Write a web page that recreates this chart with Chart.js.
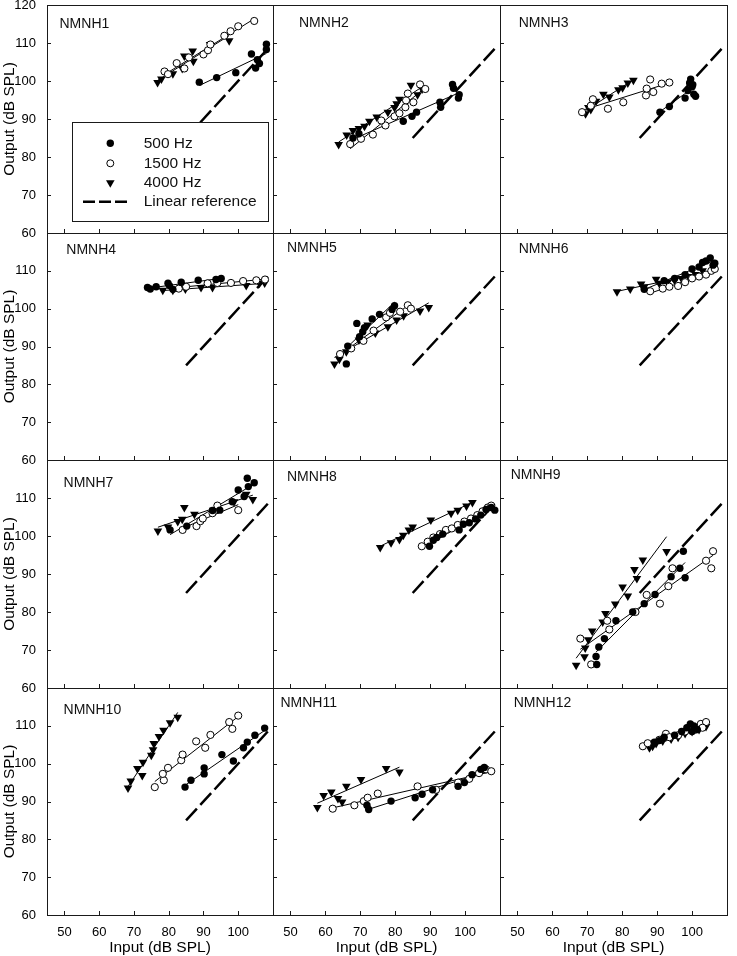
<!DOCTYPE html>
<html>
<head>
<meta charset="utf-8">
<script src="https://cdn.jsdelivr.net/npm/chart.js@4.4.1/dist/chart.umd.min.js"></script>
<style>
  body { margin: 0; background: #fff; width: 737px; height: 956px; position: relative; overflow: hidden; }
  canvas { position: absolute; }
</style>
</head>
<body>
<script>
// axes
const xTicks = [50, 60, 70, 80, 90, 100];
const yTicks = [60, 70, 80, 90, 100, 110, 120];
const refX = [85, 108.5]; // linear reference, output = input

const panelNames = ['NMNH1', 'NMNH2', 'NMNH3', 'NMNH4', 'NMNH5', 'NMNH6',
                    'NMNH7', 'NMNH8', 'NMNH9', 'NMNH10', 'NMNH11', 'NMNH12'];
const legendLabels = ['500 Hz', '1500 Hz', '4000 Hz', 'Linear reference'];

// [input, output] pairs
const NMNH1_500 = [[88.8,99.7],[93.8,100.9],[99.3,102.2],[103.8,107.1],[105.0,103.4],[106.1,104.6],[105.5,105.6],[108.1,109.7],[108.1,108.3]];
const NMNH1_1500 = [[78.8,102.5],[79.8,101.8],[82.3,104.7],[84.5,103.3],[85.8,106.2],[90.0,107.0],[91.3,108.1],[92.0,109.6],[96.0,111.9],[97.8,113.1],[100.0,114.4],[104.6,115.8]];
const NMNH1_4000 = [[76.8,99.6],[77.9,100.5],[81.2,101.9],[83.9,103.3],[84.5,106.6],[87.1,105.2],[86.9,107.9],[91.9,109.6],[97.4,110.6]];

const NMNH2_500 = [[67.9,85.0],[69.6,86.1],[82.3,89.4],[84.8,90.7],[86.1,91.8],[92.8,94.4],[93.0,93.1],[96.4,99.1],[96.7,98.1],[98.3,96.4],[98.1,95.5]];
const NMNH2_1500 = [[67.1,83.4],[70.2,84.8],[73.6,85.9],[77.2,88.3],[76.0,89.6],[79.8,90.7],[81.2,91.5],[82.9,93.1],[83.1,94.9],[83.6,96.7],[85.2,94.4],[87.1,99.1],[88.6,97.9]];
const NMNH2_4000 = [[63.8,83.3],[66.1,85.8],[67.9,87.0],[69.6,87.5],[71.2,88.1],[72.6,89.4],[74.7,90.5],[77.9,91.8],[79.8,93.0],[80.4,94.0],[81.2,95.2],[84.5,98.9],[86.4,96.4],[87.7,97.9]];

const NMNH3_500 = [[90.8,91.8],[93.5,93.3],[98.0,95.5],[98.8,97.5],[99.3,99.5],[99.6,100.5],[100.0,98.5],[100.5,96.5],[101.0,96.0],[100.2,99.0]];
const NMNH3_1500 = [[68.5,91.8],[71.0,93.5],[71.6,95.2],[75.9,92.7],[80.3,94.4],[86.8,96.2],[87.0,98.0],[88.0,100.4],[88.9,97.1],[91.3,99.3],[93.5,99.6]];
const NMNH3_4000 = [[69.5,91.4],[70.3,93.0],[71.0,92.5],[72.5,94.7],[74.6,96.5],[76.3,95.8],[78.9,97.7],[80.1,98.2],[81.6,99.5],[83.2,100.2]];

const NMNH4_500 = [[73.9,105.6],[74.7,105.2],[76.4,105.8],[79.8,106.7],[80.2,106.1],[81.2,105.1],[83.6,107.0],[88.5,107.5],[93.6,107.7],[95.1,108.0]];
const NMNH4_1500 = [[82.9,105.3],[85.0,105.8],[91.2,106.7],[94.0,106.8],[97.9,106.8],[101.4,107.3],[105.2,107.5],[107.7,107.7]];
const NMNH4_4000 = [[78.3,104.9],[81.2,104.9],[84.8,105.2],[89.3,105.6],[92.6,105.6],[102.3,106.1],[106.1,106.7],[107.6,106.8]];

const NMNH5_500 = [[66.0,85.4],[66.4,90.1],[69.0,96.1],[69.8,92.6],[70.7,93.9],[71.2,95.0],[73.4,97.3],[75.5,98.5],[79.1,99.8],[79.8,100.8]];
const NMNH5_1500 = [[64.2,88.0],[67.4,89.5],[70.9,91.5],[73.8,94.2],[77.4,97.7],[78.5,98.9],[81.4,99.2],[83.6,100.9],[84.5,100.0]];
const NMNH5_4000 = [[62.6,85.4],[64.0,86.6],[66.0,88.6],[69.6,91.7],[72.1,95.7],[74.3,93.6],[77.9,95.2],[80.4,97.0],[82.4,98.1],[87.1,99.4],[89.6,100.3]];

const NMNH6_500 = [[86.3,105.1],[92.0,107.4],[95.0,108.0],[98.0,109.0],[100.0,110.5],[102.0,111.0],[103.0,112.2],[104.0,112.6],[105.2,113.4],[106.0,111.5],[106.5,112.0]];
const NMNH6_1500 = [[88.0,104.6],[91.6,105.3],[93.5,105.8],[96.0,106.0],[98.0,107.0],[100.0,108.0],[102.0,108.5],[104.0,109.0],[105.5,110.0],[106.5,110.5]];
const NMNH6_4000 = [[78.5,104.5],[82.3,105.2],[85.4,106.5],[86.3,105.8],[89.7,107.8],[90.6,106.7],[93.0,107.0],[95.0,107.5],[97.0,108.0],[99.0,108.5],[101.0,109.0],[103.0,110.0]];

const NMNH7_500 = [[80.4,101.6],[85.2,102.6],[92.6,106.7],[94.7,106.8],[98.3,109.0],[100.0,112.1],[101.7,110.4],[102.6,115.2],[102.9,113.0],[104.6,114.0]];
const NMNH7_1500 = [[84.0,101.6],[88.0,102.6],[89.1,103.9],[89.8,104.6],[92.6,106.0],[94.0,108.0],[100.0,106.8]];
const NMNH7_4000 = [[76.9,101.3],[79.8,102.4],[82.6,103.8],[83.9,104.4],[84.5,107.5],[87.4,105.7],[92.8,106.8],[98.8,109.0],[102.3,111.0],[104.2,109.6]];

const NMNH8_500 = [[89.8,97.3],[90.9,98.9],[91.9,99.6],[93.6,100.5],[98.3,101.6],[99.5,103.1],[101.2,103.5],[103.0,104.5],[104.5,105.5],[106.0,107.0],[107.5,107.5],[108.5,106.8]];
const NMNH8_1500 = [[87.6,97.3],[89.3,98.5],[90.9,99.6],[92.8,100.5],[94.5,101.6],[96.2,102.0],[97.9,102.9],[99.8,103.8],[101.7,104.6],[103.5,105.5],[105.0,106.5],[106.5,107.5],[107.5,108.0]];
const NMNH8_4000 = [[75.7,97.0],[78.8,98.2],[81.2,99.1],[82.3,100.2],[83.9,101.6],[85.0,102.4],[90.2,104.2],[96.0,106.0],[97.9,106.8],[100.4,107.9],[102.1,108.8]];

const NMNH9_500 = [[72.7,66.2],[72.5,68.3],[73.3,70.8],[74.9,73.0],[78.2,77.7],[83.0,80.0],[86.3,82.2],[89.4,84.6],[94.0,89.3],[96.5,91.5],[97.5,96.0],[98.0,89.0]];
const NMNH9_1500 = [[68.0,73.0],[71.1,66.2],[75.7,77.7],[76.3,75.4],[83.8,80.0],[87.0,84.5],[90.8,82.2],[93.2,86.8],[94.4,91.5],[104.0,93.5],[105.5,91.5],[106.0,96.0]];
const NMNH9_4000 = [[66.8,66.0],[69.2,68.2],[69.4,70.5],[70.3,72.7],[71.4,75.0],[74.4,77.4],[75.2,79.6],[78.0,82.1],[80.1,86.6],[81.6,84.2],[83.5,91.2],[84.2,88.8],[85.9,93.7],[92.7,95.9]];

const NMNH10_500 = [[84.7,93.8],[86.4,95.6],[90.2,98.9],[90.2,97.3],[95.3,102.4],[98.6,100.7],[101.5,104.2],[102.6,105.7],[104.8,107.5],[107.6,109.4]];
const NMNH10_1500 = [[76.0,93.8],[78.6,95.6],[78.3,97.3],[79.8,98.9],[83.6,100.9],[84.0,102.4],[87.9,105.9],[90.5,104.2],[92.0,107.6],[97.4,111.0],[98.3,109.2],[100.0,112.7]];
const NMNH10_4000 = [[68.3,93.6],[69.1,95.4],[71.0,98.7],[72.4,96.9],[72.6,100.4],[75.0,102.2],[75.5,103.7],[75.7,105.3],[77.2,107.2],[78.5,108.8],[80.4,110.8],[82.6,112.3]];

const NMNH11_500 = [[71.9,89.0],[72.4,87.9],[78.8,90.1],[85.7,91.0],[87.7,91.9],[90.7,93.1],[98.0,94.0],[99.8,95.0],[102.0,97.1],[104.5,98.5],[105.5,99.0]];
const NMNH11_1500 = [[62.1,88.1],[68.3,89.0],[71.0,90.1],[72.1,91.0],[75.0,92.1],[86.4,94.0],[91.7,93.1],[98.0,95.0],[101.2,96.0],[104.0,97.5],[106.0,98.5],[107.5,98.0]];
const NMNH11_4000 = [[57.7,88.4],[59.5,91.6],[61.7,92.5],[63.6,90.8],[64.8,89.9],[66.0,94.0],[70.2,95.8],[77.4,98.7],[81.2,97.8]];

const NMNH12_500 = [[89.2,105.7],[90.6,106.1],[92.0,107.0],[95.0,107.5],[97.0,108.5],[98.5,109.5],[99.5,110.5],[100.5,110.0],[101.5,109.0],[100.0,108.5]];
const NMNH12_1500 = [[85.9,104.6],[87.3,105.4],[90.6,106.3],[92.5,107.9],[93.5,107.0],[96.0,107.5],[98.0,108.5],[99.5,110.0],[101.0,109.0],[102.5,110.5],[104.0,111.0],[103.0,109.5]];
const NMNH12_4000 = [[87.8,104.2],[88.7,104.6],[89.7,105.3],[91.6,106.0],[94.0,106.5],[96.0,107.0],[98.0,108.0],[100.0,108.5],[102.0,109.0],[104.0,109.8]];

const series500 = [NMNH1_500, NMNH2_500, NMNH3_500, NMNH4_500, NMNH5_500, NMNH6_500,
                   NMNH7_500, NMNH8_500, NMNH9_500, NMNH10_500, NMNH11_500, NMNH12_500];
const series1500 = [NMNH1_1500, NMNH2_1500, NMNH3_1500, NMNH4_1500, NMNH5_1500, NMNH6_1500,
                    NMNH7_1500, NMNH8_1500, NMNH9_1500, NMNH10_1500, NMNH11_1500, NMNH12_1500];
const series4000 = [NMNH1_4000, NMNH2_4000, NMNH3_4000, NMNH4_4000, NMNH5_4000, NMNH6_4000,
                    NMNH7_4000, NMNH8_4000, NMNH9_4000, NMNH10_4000, NMNH11_4000, NMNH12_4000];

// page layout (px)
const colLeft = [47, 273, 500, 727];
const rowTop = [5, 233, 460, 688, 915];
// padT must stay above the y labels' own top padding, or Chart.js pushes the plot down
const padL = 47, padT = 22, padR = 10, padB = 42;
// where each panel name sits, from panel top-left corner
const nameOffset = [[12.5,19.3],[26,18.3],[18.7,18.3],[19.3,17.2],[14,15.5],[18.7,16.5],
                    [16.6,23.3],[14,16.7],[10.7,15],[16.6,22.3],[7.4,15],[13.7,15.6]];

const FONT = "'Liberation Sans', Arial, Helvetica, sans-serif";
Chart.defaults.font.family = FONT;
Chart.defaults.color = '#000';

const toXY = pts => pts.map(p => ({ x: p[0], y: p[1] }));

// straight least-squares line over the data's input range
function fitLine(pts) {
    const n = pts.length;
    let sx = 0, sy = 0, sxx = 0, sxy = 0;
    pts.forEach(([x, y]) => { sx += x; sy += y; sxx += x * x; sxy += x * y; });
    const b = (n * sxy - sx * sy) / (n * sxx - sx * sx);
    const a = (sy - b * sx) / n;
    const xs = pts.map(p => p[0]);
    const x0 = Math.min(...xs), x1 = Math.max(...xs);
    return [{ x: x0, y: a + b * x0 }, { x: x1, y: a + b * x1 }];
}

// frame, inward ticks, panel name, legend
const panelDeco = {
    id: 'panelDeco',
    afterDraw(chart, args, opts) {
        const { ctx, chartArea: a, scales } = chart;
        ctx.save();
        ctx.fillStyle = '#1a1a1a';
        // frame
        ctx.fillRect(a.left, a.top, a.right - a.left + 1, 1);
        ctx.fillRect(a.left, a.bottom, a.right - a.left + 1, 1);
        ctx.fillRect(a.left, a.top, 1, a.bottom - a.top + 1);
        ctx.fillRect(a.right, a.top, 1, a.bottom - a.top + 1);
        // ticks pointing in
        xTicks.forEach(v => {
            const px = Math.round(scales.x.getPixelForValue(v));
            ctx.fillRect(px, a.bottom - 4, 1, 4);
        });
        yTicks.forEach(v => {
            const py = Math.round(scales.y.getPixelForValue(v));
            ctx.fillRect(a.left, py, 4, 1);
        });
        // panel name
        ctx.fillStyle = '#111';
        ctx.font = '14px ' + FONT;
        ctx.textBaseline = 'middle';
        ctx.textAlign = 'left';
        ctx.fillText(opts.name, a.left + opts.dx, a.top + opts.dy);

        if (opts.legend) {
            const bx = a.left + 25, by = a.top + 117;
            ctx.fillStyle = '#fff';
            ctx.fillRect(bx, by, 197, 100);
            ctx.strokeStyle = '#1a1a1a';
            ctx.lineWidth = 1;
            ctx.strokeRect(bx + 0.5, by + 0.5, 196, 99);
            const rows = [21.3, 41.3, 60.7, 79.7];
            const sx = bx + 38.3;
            ctx.fillStyle = '#000';
            // 500 Hz
            ctx.beginPath(); ctx.arc(sx, by + rows[0], 3.7, 0, Math.PI * 2); ctx.fill();
            // 1500 Hz
            ctx.beginPath(); ctx.arc(sx, by + rows[1], 3.5, 0, Math.PI * 2);
            ctx.fillStyle = '#fff'; ctx.fill(); ctx.strokeStyle = '#000'; ctx.stroke();
            // 4000 Hz
            ctx.fillStyle = '#000';
            const ty = by + rows[2];
            ctx.beginPath();
            ctx.moveTo(sx - 4.3, ty - 2.5); ctx.lineTo(sx + 4.3, ty - 2.5); ctx.lineTo(sx, ty + 5);
            ctx.closePath(); ctx.fill();
            // linear reference
            ctx.lineWidth = 2.5;
            ctx.setLineDash([12, 4]);
            ctx.beginPath(); ctx.moveTo(bx + 11, by + rows[3]); ctx.lineTo(bx + 56, by + rows[3]); ctx.stroke();
            ctx.setLineDash([]);
            ctx.font = '15.5px ' + FONT;
            ctx.fillStyle = '#111';
            legendLabels.forEach((t, i) => ctx.fillText(t, bx + 71.7, by + rows[i]));
        }
        ctx.restore();
    }
};

panelNames.forEach((name, i) => {
    const row = Math.floor(i / 3), col = i % 3;
    const w = colLeft[col + 1] - colLeft[col];
    const h = rowTop[row + 1] - rowTop[row];
    const cv = document.createElement('canvas');
    cv.width = padL + w + padR;
    cv.height = padT + h + padB;
    cv.style.left = (colLeft[col] - padL) + 'px';
    cv.style.top = (rowTop[row] - padT) + 'px';
    document.body.appendChild(cv);

    const isLeft = col === 0, isBottom = row === 3;
    const yShown = row === 0 ? yTicks : yTicks.filter(v => v < 120);

    new Chart(cv.getContext('2d'), {
        type: 'scatter',
        data: {
            datasets: [
                { data: toXY(series500[i]), pointStyle: 'circle', pointRadius: 3.7,
                  backgroundColor: '#000', borderColor: '#000', borderWidth: 0 },
                { data: toXY(series1500[i]), pointStyle: 'circle', pointRadius: 3.6,
                  backgroundColor: '#fff', borderColor: '#000', borderWidth: 1 },
                { data: toXY(series4000[i]), pointStyle: 'triangle', pointRotation: 180, pointRadius: 5,
                  backgroundColor: '#000', borderColor: '#000', borderWidth: 0 },
                { data: fitLine(series500[i]), showLine: true, pointRadius: 0, borderColor: '#000', borderWidth: 1 },
                { data: fitLine(series1500[i]), showLine: true, pointRadius: 0, borderColor: '#000', borderWidth: 1 },
                { data: fitLine(series4000[i]), showLine: true, pointRadius: 0, borderColor: '#000', borderWidth: 1 },
                { data: refX.map(v => ({ x: v, y: v })), showLine: true, pointRadius: 0,
                  borderColor: '#000', borderWidth: 2.5, borderDash: [16, 5] }
            ]
        },
        options: {
            responsive: false,
            animation: false,
            events: [],
            layout: { padding: { left: 0, top: padT, right: padR, bottom: 0 } },
            plugins: {
                legend: { display: false },
                tooltip: { enabled: false },
                panelDeco: { name: name, dx: nameOffset[i][0], dy: nameOffset[i][1], legend: i === 0 }
            },
            scales: {
                x: {
                    type: 'linear', min: 45, max: 110,
                    grid: { display: false, drawTicks: false },
                    border: { display: false },
                    afterBuildTicks: s => { s.ticks = xTicks.map(v => ({ value: v })); },
                    afterFit: s => { s.height = padB; },
                    ticks: { display: isBottom, padding: 10, font: { size: 13 }, color: '#000' },
                    title: { display: isBottom, text: 'Input (dB SPL)', padding: 0, font: { size: 15.5 }, color: '#000' }
                },
                y: {
                    type: 'linear', min: 60, max: 120,
                    grid: { display: false, drawTicks: false },
                    border: { display: false },
                    afterBuildTicks: s => { s.ticks = yShown.map(v => ({ value: v })); },
                    afterFit: s => { s.width = padL; },
                    ticks: { display: isLeft, padding: 11, font: { size: 13 }, color: '#000' },
                    title: { display: isLeft, text: 'Output (dB SPL)', padding: 0, font: { size: 15.5 }, color: '#000' }
                }
            }
        },
        plugins: [panelDeco]
    });
});
</script>
</body>
</html>
